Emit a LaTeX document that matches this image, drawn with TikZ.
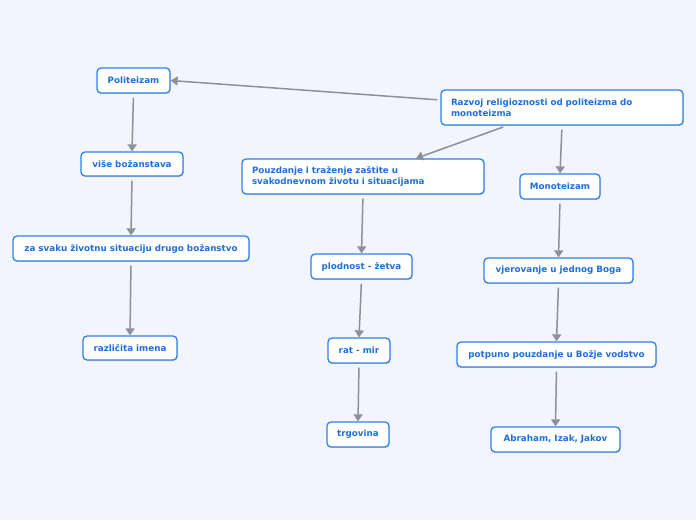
\documentclass[tikz,border=0pt]{standalone}
\usepackage{fontspec}
\setmainfont{DejaVu Sans}
\usetikzlibrary{arrows.meta,calc,shadows}
\definecolor{bg}{HTML}{F2F5FE}
\definecolor{txt}{HTML}{1E6FD9}
\definecolor{bord}{HTML}{2F80ED}
\definecolor{arr}{HTML}{8C9099}
\tikzset{
  box/.style={draw=bord, line width=1.3pt, rounded corners=4pt, fill=white, text=txt,
    font=\fontsize{8.75}{11}\selectfont\bfseries, inner sep=0pt,
    drop shadow={shadow xshift=0.6pt, shadow yshift=-0.8pt, opacity=0.35}},
  conn/.style={draw=arr, line width=1.5pt, -{Triangle[length=7pt,width=9pt]}, shorten <=4pt}
}
\begin{document}
\begin{tikzpicture}[x=1pt,y=-1pt]
\fill[bg] (0,0) rectangle (696,520);
\useasboundingbox (0,0) rectangle (696,520);
\node[box, minimum width=73, minimum height=25] (p) at (133.5,80.5) {Politeizam};
\node[box, minimum width=242, minimum height=35, text width=222, align=left] (r) at (562,107.5) {Razvoj religioznosti od politeizma do\\monoteizma};
\node[box, minimum width=102, minimum height=24] (v) at (132,164) {više božanstava};
\node[box, minimum width=242, minimum height=35, text width=222, align=left] (z) at (363,176.5) {Pouzdanje i traženje zaštite u\\svakodnevnom životu i situacijama};
\node[box, minimum width=80, minimum height=25] (m) at (560,186.5) {Monoteizam};
\node[box, minimum width=236, minimum height=25] (s) at (131,248.5) {za svaku životnu situaciju drugo božanstvo};
\node[box, minimum width=101, minimum height=25] (pl) at (361.5,266.5) {plodnost - žetva};
\node[box, minimum width=149, minimum height=25] (vj) at (558.5,270.5) {vjerovanje u jednog Boga};
\node[box, minimum width=94, minimum height=24] (ri) at (130,348) {različita imena};
\node[box, minimum width=62, minimum height=25] (rm) at (359,350.5) {rat - mir};
\node[box, minimum width=199, minimum height=25] (pp) at (556.5,354.5) {potpuno pouzdanje u Božje vodstvo};
\node[box, minimum width=62, minimum height=25] (tr) at (358,434.5) {trgovina};
\node[box, minimum width=129, minimum height=25] (ab) at (555.5,439.5) {Abraham, Izak, Jakov};
\draw[conn, shorten <=3pt] ([yshift=7.5pt]r.west) -- (p.east);
\draw[conn] ([xshift=-55pt]r.south) -- ([xshift=53pt]z.north);
\draw[conn] (r.south) -- (m.north);
\draw[conn] (p.south) -- (v.north);
\draw[conn] (v.south) -- (s.north);
\draw[conn] (s.south) -- (ri.north);
\draw[conn] (z.south) -- (pl.north);
\draw[conn] (pl.south) -- (rm.north);
\draw[conn] (rm.south) -- (tr.north);
\draw[conn] (m.south) -- (vj.north);
\draw[conn] (vj.south) -- (pp.north);
\draw[conn] (pp.south) -- (ab.north);
\end{tikzpicture}
\end{document}
